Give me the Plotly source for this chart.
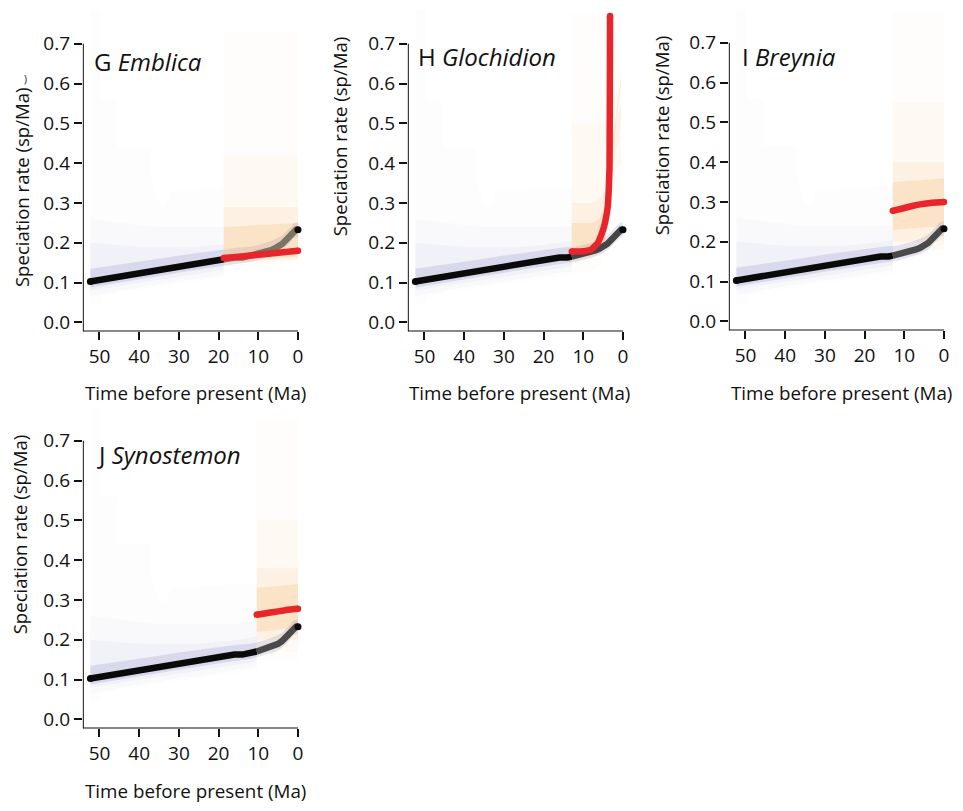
import numpy as np
import plotly.graph_objects as go

# ---------------- data ----------------
PANEL_LETTERS = ["G", "H", "I", "J"]
PANEL_GENERA = ["Emblica", "Glochidion", "Breynia", "Synostemon"]
SHIFT_TIMES = [18.7, 12.9, 12.9, 10.4]

X_TICKS = [50, 40, 30, 20, 10, 0]
Y_TICKS = [0.0, 0.1, 0.2, 0.3, 0.4, 0.5, 0.6, 0.7]
Y_TICK_LABELS = ["0.0", "0.1", "0.2", "0.3", "0.4", "0.5", "0.6", "0.7"]
X_TITLE = "Time before present (Ma)"
Y_TITLE = "Speciation rate (sp/Ma)"

# background speciation rate through time
BG_TIME = [52.3, 50, 48, 46, 44, 42, 40, 38, 36, 34, 32, 30, 28, 26, 24, 22, 20, 18,
           16, 14, 13, 12, 11, 10, 9, 8, 7, 6, 5, 4, 3, 2.5, 2, 1.5, 1, 0.5, 0]
BG_RATE = [0.103, 0.107, 0.110, 0.114, 0.117, 0.121, 0.124, 0.127, 0.130, 0.133, 0.137,
           0.140, 0.143, 0.146, 0.149, 0.152, 0.156, 0.160, 0.163, 0.163, 0.165, 0.167,
           0.169, 0.172, 0.175, 0.178, 0.181, 0.185, 0.190, 0.197, 0.207, 0.213, 0.220,
           0.227, 0.231, 0.233, 0.233]

# background credible-density envelopes (outer -> inner)
BLUE1_TIME = [52.3, 49.7, 49.7, 45.5, 45.5, 37, 37, 35, 34, 33, 32, 28, 24, 20, 16, 13, 10, 6, 3, 0]
BLUE1_UP = [0.79, 0.79, 0.56, 0.56, 0.44, 0.44, 0.36, 0.30, 0.29, 0.30, 0.33, 0.33, 0.335,
            0.335, 0.34, 0.34, 0.34, 0.34, 0.34, 0.34]
BLUE1_LO = [0.045, 0.045, 0.06, 0.075, 0.078, 0.085, 0.088, 0.09, 0.092, 0.094, 0.096, 0.10,
            0.105, 0.11, 0.115, 0.12, 0.125, 0.13, 0.135, 0.14]

BLUE_TIME = [52.3, 45, 40, 35, 30, 25, 20, 15, 12, 10, 8, 6, 4, 3, 2, 1, 0]
BLUE2_UP = [0.26, 0.25, 0.245, 0.24, 0.24, 0.24, 0.24, 0.24, 0.245, 0.25, 0.25, 0.26, 0.27, 0.28, 0.29, 0.3, 0.3]
BLUE2_LO = [0.065, 0.08, 0.088, 0.096, 0.104, 0.11, 0.118, 0.126, 0.13, 0.135, 0.14, 0.145, 0.15, 0.155, 0.16, 0.165, 0.165]
BLUE3_UP = [0.2, 0.195, 0.19, 0.19, 0.19, 0.19, 0.195, 0.2, 0.205, 0.21, 0.215, 0.22, 0.23, 0.24, 0.25, 0.26, 0.26]
BLUE3_LO = [0.08, 0.092, 0.1, 0.108, 0.115, 0.122, 0.13, 0.138, 0.142, 0.147, 0.152, 0.158, 0.165, 0.17, 0.175, 0.18, 0.18]
BLUE4_UP = [0.135, 0.145, 0.153, 0.160, 0.168, 0.175, 0.182, 0.188, 0.19, 0.195, 0.2, 0.208, 0.218, 0.228, 0.24, 0.25, 0.252]
BLUE4_LO = [0.088, 0.10, 0.109, 0.117, 0.125, 0.133, 0.141, 0.148, 0.152, 0.157, 0.163, 0.169, 0.18, 0.19, 0.2, 0.212, 0.215]

# shifted-clade envelopes (per panel, outer -> inner)
G_OR_TIME = [18.7, 10, 0]
G_OR_LO = [[0.14, 0.145, 0.15], [0.145, 0.15, 0.155], [0.15, 0.155, 0.16], [0.155, 0.16, 0.165]]
G_OR_UP = [[0.73, 0.73, 0.73], [0.42, 0.42, 0.42], [0.29, 0.29, 0.29], [0.24, 0.245, 0.25]]

H_OR_TIME = [12.9, 8, 6, 4.5, 3.5, 3.0, 0.5]
H_OR_LO = [[0.12, 0.13, 0.14, 0.17, 0.25, 0.30, 0.32], [0.15, 0.16, 0.17, 0.2, 0.28, 0.36, 0.40],
           [0.16, 0.165, 0.175, 0.2, 0.25, 0.36, 0.5], [0.165, 0.17, 0.18, 0.21, 0.27, 0.4, 0.6]]
H_OR_UP = [[0.775, 0.775, 0.775, 0.775, 0.775, 0.775, 0.775], [0.5, 0.5, 0.5, 0.5, 0.5, 0.55, 0.6],
           [0.30, 0.30, 0.31, 0.33, 0.36, 0.45, 0.55], [0.25, 0.25, 0.26, 0.29, 0.34, 0.42, 0.62]]

I_OR_TIME = [12.9, 6, 0]
I_OR_LO = [[0.16, 0.165, 0.165], [0.18, 0.18, 0.18], [0.2, 0.2, 0.2], [0.23, 0.235, 0.24]]
I_OR_UP = [[0.78, 0.78, 0.78], [0.55, 0.55, 0.55], [0.40, 0.40, 0.40], [0.35, 0.355, 0.36]]

J_OR_TIME = [10.4, 5, 0]
J_OR_LO = [[0.15, 0.15, 0.15], [0.17, 0.17, 0.17], [0.2, 0.2, 0.2], [0.22, 0.225, 0.23]]
J_OR_UP = [[0.75, 0.75, 0.75], [0.5, 0.5, 0.5], [0.38, 0.38, 0.38], [0.33, 0.335, 0.34]]

# shifted-clade mean speciation rate
G_RED_TIME = [18.7, 15, 10, 5, 0]
G_RED_RATE = [0.162, 0.165, 0.170, 0.175, 0.180]
H_RED_TIME = [12.9, 10, 8, 7.3, 6.5, 6.0, 5.4, 4.8, 4.3, 3.85, 3.6, 3.4, 3.35, 3.3, 3.27]
H_RED_RATE = [0.178, 0.179, 0.183, 0.19, 0.197, 0.207, 0.222, 0.24, 0.262, 0.29, 0.33, 0.39, 0.5, 0.62, 0.77]
I_RED_TIME = [12.9, 10, 8, 6, 4, 2, 0]
I_RED_RATE = [0.278, 0.285, 0.29, 0.294, 0.297, 0.299, 0.300]
J_RED_TIME = [10.4, 8, 6, 4, 2, 0]
J_RED_RATE = [0.263, 0.267, 0.27, 0.273, 0.276, 0.278]

OR_TIMES = [G_OR_TIME, H_OR_TIME, I_OR_TIME, J_OR_TIME]
OR_LOS = [G_OR_LO, H_OR_LO, I_OR_LO, J_OR_LO]
OR_UPS = [G_OR_UP, H_OR_UP, I_OR_UP, J_OR_UP]
RED_TIMES = [G_RED_TIME, H_RED_TIME, I_RED_TIME, J_RED_TIME]
RED_RATES = [G_RED_RATE, H_RED_RATE, I_RED_RATE, J_RED_RATE]

# ---------------- layout geometry (pixels of the 963x811 page) ----------------
OFF = 8                      # default body margin of the page
W, H = 963 - OFF, 811 - OFF  # figure size
X0PX = [298, 623, 944, 298]  # page pixel of t = 0
Y0PX = [324, 324, 323, 723]  # page pixel of rate = 0
PX_PER_MA = 3.97
PX_PER_UNIT = 400.0
XR = [54.2, -2.0]
YR = [-0.0225, 0.785]
TAIL_GRAY = ["#7a7462", "#454545", "#4a4a4a", "#4a4a4a"]
YT_POS = [(21, 188), (339, 137), (661, 136), (19, 537)]
XT_POS = [(195, 395), (519, 395), (841, 395), (195, 795)]
LBL_POS = [(92, 62), (416, 57), (740, 57), (95, 457)]


def px(xp):
    return (xp - OFF) / W


def py(yp):
    return 1 - (yp - OFF) / H


FONT = "Open Sans"
BLUE = "60,60,170"
ORANGE = "240,150,40"
BLUE_ALPHA = [0.011, 0.02, 0.045, 0.13]
OR_ALPHA = [0.02, 0.04, 0.08, 0.15]

fig = go.Figure()


def clip_left(t, v_lists, tmin):
    t = np.asarray(t, float)
    out_t = list(t[t >= tmin])
    outs = []
    for v in v_lists:
        v = np.asarray(v, float)
        vv = list(v[t >= tmin])
        edge = float(np.interp(tmin, t[::-1], v[::-1]))
        outs.append(vv + [edge])
    return out_t + [tmin], outs


def clip_right(t, v_lists, tmax):
    t = np.asarray(t, float)
    out_t = list(t[t <= tmax])
    outs = []
    for v in v_lists:
        v = np.asarray(v, float)
        vv = list(v[t <= tmax])
        edge = float(np.interp(tmax, t[::-1], v[::-1]))
        outs.append([edge] + vv)
    return [tmax] + out_t, outs


def band(t, lo, up, color, xa, ya):
    t = list(t)
    fig.add_trace(go.Scatter(
        x=t + t[::-1], y=list(up) + list(lo)[::-1], mode="lines", fill="toself",
        fillcolor=color, line=dict(width=0), hoverinfo="skip", showlegend=False,
        xaxis=xa, yaxis=ya))


for i in range(4):
    xa = "x" if i == 0 else f"x{i+1}"
    ya = "y" if i == 0 else f"y{i+1}"
    s = SHIFT_TIMES[i]

    ct, (lo1, up1) = clip_left(BLUE1_TIME, [BLUE1_LO, BLUE1_UP], s)
    band(ct, lo1, up1, f"rgba({BLUE},{BLUE_ALPHA[0]})", xa, ya)
    ct, (lo2, up2, lo3, up3) = clip_left(BLUE_TIME, [BLUE2_LO, BLUE2_UP, BLUE3_LO, BLUE3_UP], s)
    band(ct, lo2, up2, f"rgba({BLUE},{BLUE_ALPHA[1]})", xa, ya)
    band(ct, lo3, up3, f"rgba({BLUE},{BLUE_ALPHA[2]})", xa, ya)
    band(BLUE_TIME, BLUE4_LO, BLUE4_UP, f"rgba({BLUE},{BLUE_ALPHA[3]})", xa, ya)

    for k in range(4):
        band(OR_TIMES[i], OR_LOS[i][k], OR_UPS[i][k], f"rgba({ORANGE},{OR_ALPHA[k]})", xa, ya)

    bt, (br,) = clip_left(BG_TIME, [BG_RATE], s)
    gt, (gr,) = clip_right(BG_TIME, [BG_RATE], s)
    fig.add_trace(go.Scatter(x=gt, y=gr, mode="lines", line=dict(color=TAIL_GRAY[i], width=6.5),
                             hoverinfo="skip", showlegend=False, xaxis=xa, yaxis=ya))
    fig.add_trace(go.Scatter(x=bt, y=br, mode="lines", line=dict(color="#0a0a0a", width=6.5),
                             hoverinfo="skip", showlegend=False, xaxis=xa, yaxis=ya))
    fig.add_trace(go.Scatter(x=[BG_TIME[0], BG_TIME[-1]], y=[BG_RATE[0], BG_RATE[-1]], mode="markers",
                             marker=dict(color="#0a0a0a", size=7), cliponaxis=False,
                             hoverinfo="skip", showlegend=False, xaxis=xa, yaxis=ya))

    fig.add_trace(go.Scatter(x=RED_TIMES[i], y=RED_RATES[i], mode="lines",
                             line=dict(color="#e8252b", width=6.5, shape="spline", smoothing=0.4),
                             hoverinfo="skip", showlegend=False, xaxis=xa, yaxis=ya))
    fig.add_trace(go.Scatter(x=[RED_TIMES[i][0], RED_TIMES[i][-1]], y=[RED_RATES[i][0], RED_RATES[i][-1]],
                             mode="markers", marker=dict(color="#e8252b", size=6.5), cliponaxis=False,
                             hoverinfo="skip", showlegend=False, xaxis=xa, yaxis=ya))

    left = X0PX[i] - XR[0] * PX_PER_MA
    right = X0PX[i] - XR[1] * PX_PER_MA
    bottom = Y0PX[i] - YR[0] * PX_PER_UNIT
    top = Y0PX[i] - YR[1] * PX_PER_UNIT
    xkey = "xaxis" if i == 0 else f"xaxis{i+1}"
    ykey = "yaxis" if i == 0 else f"yaxis{i+1}"
    fig.update_layout(**{
        xkey: dict(domain=[px(left), px(right)], range=XR, anchor=ya, showgrid=False, zeroline=False,
                   showline=False, tickmode="array", tickvals=X_TICKS, ticks="outside", ticklen=8,
                   tickwidth=2, tickcolor="#111", tickfont=dict(family=FONT, size=19, color="#111")),
        ykey: dict(domain=[py(bottom), py(top)], range=YR, anchor=xa, showgrid=False,
                   zeroline=False, showline=False, tickmode="array", tickvals=Y_TICKS,
                   ticktext=Y_TICK_LABELS, ticks="outside", ticklen=8, tickwidth=2, tickcolor="#111",
                   tickfont=dict(family=FONT, size=19, color="#111")),
    })
    fig.add_shape(type="line", xref=xa, yref=ya, x0=XR[0], x1=0, y0=YR[0], y1=YR[0],
                  line=dict(color="#111", width=2))
    fig.add_shape(type="line", xref=xa, yref=ya, x0=XR[0], x1=XR[0], y0=YR[0], y1=0.7,
                  line=dict(color="#111", width=2))

    fig.add_annotation(xref="paper", yref="paper", x=px(LBL_POS[i][0]), y=py(LBL_POS[i][1]),
                       xanchor="left", yanchor="middle", showarrow=False,
                       text=f"{PANEL_LETTERS[i]} <i>{PANEL_GENERA[i]}</i>",
                       font=dict(family=FONT, size=24, color="#111"))
    fig.add_annotation(xref="paper", yref="paper", x=px(YT_POS[i][0]), y=py(YT_POS[i][1]),
                       xanchor="center", yanchor="middle", showarrow=False, textangle=-90,
                       text=Y_TITLE, font=dict(family=FONT, size=18.6, color="#111"))
    fig.add_annotation(xref="paper", yref="paper", x=px(XT_POS[i][0]), y=py(XT_POS[i][1]),
                       xanchor="center", yanchor="middle", showarrow=False,
                       text=X_TITLE, font=dict(family=FONT, size=18.8, color="#111"))

fig.add_annotation(xref="paper", yref="paper", x=px(22), y=py(70), showarrow=False,
                   text=")", font=dict(family=FONT, size=10, color="#111"))

fig.update_layout(width=W, height=H, margin=dict(l=0, r=0, t=0, b=0),
                  paper_bgcolor="white", plot_bgcolor="rgba(0,0,0,0)", showlegend=False)
fig.write_html("out.html")
